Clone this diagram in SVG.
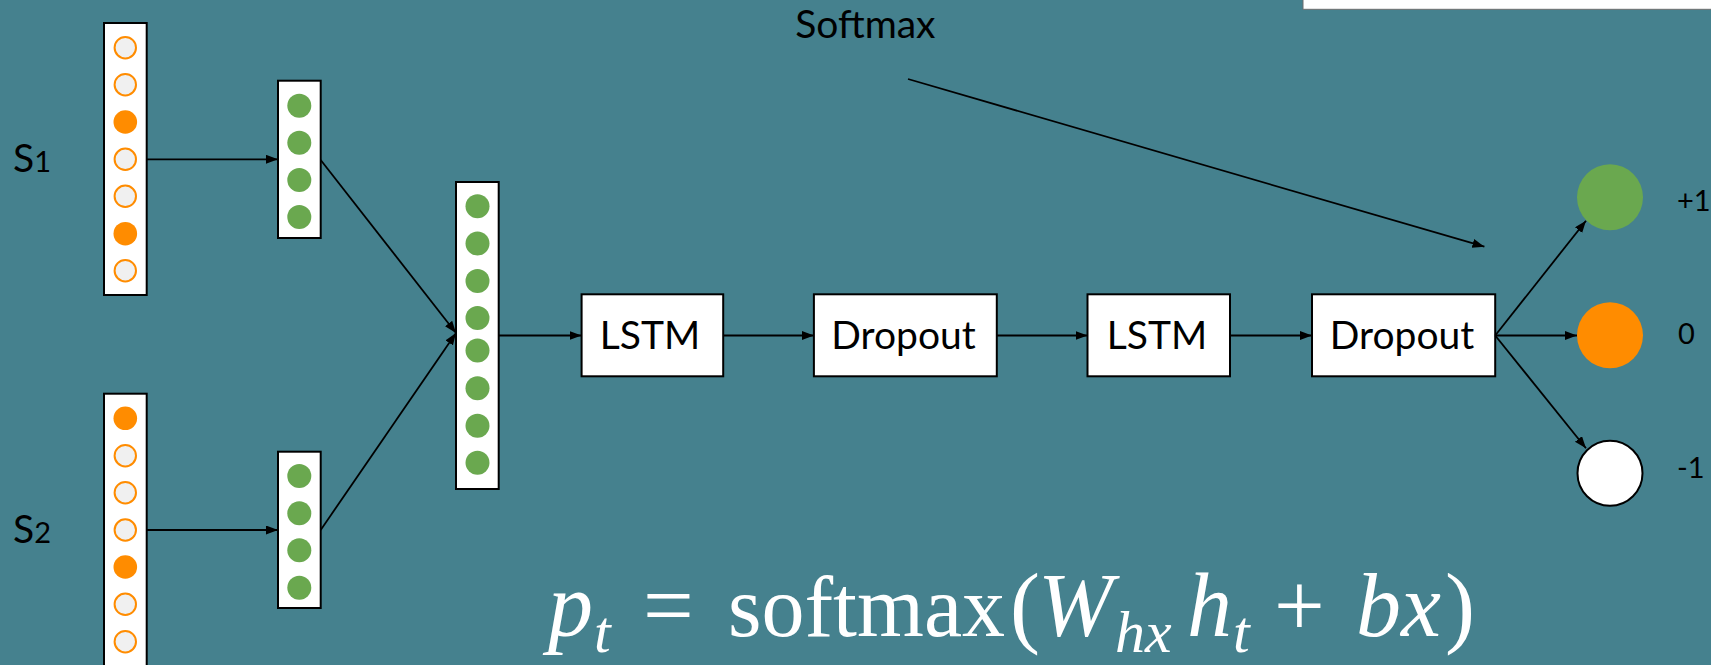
<svg xmlns="http://www.w3.org/2000/svg" width="1711" height="665" viewBox="0 0 1711 665">
  <style>
    .bg { fill: #45818e; }
    .box { fill: #ffffff; stroke: #000000; stroke-width: 2; }
    .hot { fill: #ff8c00; }
    .cold { fill: #f0f0f0; stroke: #ff8c00; stroke-width: 2; }
    .emb { fill: #6aa84f; }
    .lbl { font-family: Lato, "Open Sans", "Liberation Sans", sans-serif; font-size: 39px; fill: #000000; }
    .mid { text-anchor: middle; }
    .dig { font-size: 29px; }
    .edge { fill: none; stroke: #000000; stroke-width: 1.8; }
    .math { font-family: "Liberation Serif", "DejaVu Serif", serif; font-size: 90px; fill: #ffffff; }
    .it { font-style: italic; }
    .sub { font-size: 60px; }
    .fn { font-size: 86px; }
  </style>
  <defs>
    <marker id="arrow" markerUnits="userSpaceOnUse" markerWidth="13" markerHeight="10" refX="12" refY="4.5" orient="auto">
      <path d="M0,0 L12,4.5 L0,9 z" fill="#000000"/>
    </marker>
  </defs>

  <rect class="bg" x="0" y="0" width="1711" height="665"/>

  <!-- white panel at the top right edge -->
  <g id="panel">
    <rect x="1303" y="-4" width="412" height="13.3" fill="#ffffff" stroke="#6d6d6d" stroke-width="1"/>
  </g>

  <!-- input one-hot vectors -->
  <g id="s1">
    <text class="lbl" x="13" y="172">S<tspan class="dig">1</tspan></text>
    <rect class="box" x="104" y="23" width="42.7" height="272"/>
    <circle class="cold" cx="125.3" cy="47.7" r="10.7"/>
    <circle class="cold" cx="125.3" cy="84.7" r="10.7"/>
    <circle class="hot" cx="125.3" cy="122" r="11.8"/>
    <circle class="cold" cx="125.3" cy="159.3" r="10.7"/>
    <circle class="cold" cx="125.3" cy="196.3" r="10.7"/>
    <circle class="hot" cx="125.3" cy="233.7" r="11.8"/>
    <circle class="cold" cx="125.3" cy="270.7" r="10.7"/>
  </g>
  <g id="s2">
    <text class="lbl" x="13" y="542.7">S<tspan class="dig">2</tspan></text>
    <rect class="box" x="104" y="393.7" width="42.7" height="290"/>
    <circle class="hot" cx="125.3" cy="418.3" r="11.8"/>
    <circle class="cold" cx="125.3" cy="455.7" r="10.7"/>
    <circle class="cold" cx="125.3" cy="492.7" r="10.7"/>
    <circle class="cold" cx="125.3" cy="530" r="10.7"/>
    <circle class="hot" cx="125.3" cy="567" r="11.8"/>
    <circle class="cold" cx="125.3" cy="604.3" r="10.7"/>
    <circle class="cold" cx="125.3" cy="641.7" r="10.7"/>
  </g>

  <!-- embedding vectors -->
  <g id="emb1">
    <rect class="box" x="278" y="80.7" width="42.7" height="157.3"/>
    <circle class="emb" cx="299.3" cy="105.7" r="12"/>
    <circle class="emb" cx="299.3" cy="142.7" r="12"/>
    <circle class="emb" cx="299.3" cy="180" r="12"/>
    <circle class="emb" cx="299.3" cy="217" r="12"/>
  </g>
  <g id="emb2">
    <rect class="box" x="278" y="451.7" width="42.7" height="156.3"/>
    <circle class="emb" cx="299.3" cy="476" r="12"/>
    <circle class="emb" cx="299.3" cy="513.3" r="12"/>
    <circle class="emb" cx="299.3" cy="550.3" r="12"/>
    <circle class="emb" cx="299.3" cy="587.7" r="12"/>
  </g>

  <!-- merged vector -->
  <g id="merged">
    <rect class="box" x="456" y="182" width="42.7" height="307"/>
    <circle class="emb" cx="477.5" cy="206.3" r="12"/>
    <circle class="emb" cx="477.5" cy="243.5" r="12"/>
    <circle class="emb" cx="477.5" cy="281" r="12"/>
    <circle class="emb" cx="477.5" cy="318" r="12"/>
    <circle class="emb" cx="477.5" cy="350.5" r="12"/>
    <circle class="emb" cx="477.5" cy="388.3" r="12"/>
    <circle class="emb" cx="477.5" cy="425.7" r="12"/>
    <circle class="emb" cx="477.5" cy="462.7" r="12"/>
  </g>

  <!-- layers -->
  <g id="lstm1">
    <rect class="box" x="581.6" y="294.3" width="141.6" height="82"/>
    <text class="lbl mid" x="650" y="349.3">LSTM</text>
  </g>
  <g id="dropout1">
    <rect class="box" x="813.9" y="294.3" width="182.9" height="82"/>
    <text class="lbl mid" x="903.5" y="349.3">Dropout</text>
  </g>
  <g id="lstm2">
    <rect class="box" x="1087.5" y="294.3" width="142.5" height="82"/>
    <text class="lbl mid" x="1157" y="349.3">LSTM</text>
  </g>
  <g id="dropout2">
    <rect class="box" x="1312" y="294.3" width="183.2" height="82"/>
    <text class="lbl mid" x="1402" y="349.3">Dropout</text>
  </g>

  <!-- output classes -->
  <g id="out-pos">
    <circle cx="1610" cy="197.3" r="33" fill="#6aa84f"/>
    <text class="lbl dig" x="1677" y="210.7">+1</text>
  </g>
  <g id="out-neu">
    <circle cx="1610" cy="335.3" r="33" fill="#ff8c00"/>
    <text class="lbl dig" x="1678" y="344">0</text>
  </g>
  <g id="out-neg">
    <circle cx="1610" cy="473.3" r="32.5" fill="#ffffff" stroke="#000000" stroke-width="2"/>
    <text class="lbl dig" x="1677" y="478.3">-1</text>
  </g>

  <g id="softmax-label">
    <text class="lbl mid" x="865.4" y="37.7">Softmax</text>
  </g>

  <!-- connectors -->
  <g id="connectors">
    <line class="edge" x1="146.7" y1="159.3" x2="278" y2="159.3" marker-end="url(#arrow)"/>
    <line class="edge" x1="146.7" y1="530" x2="278" y2="530" marker-end="url(#arrow)"/>
    <line class="edge" x1="320.7" y1="160" x2="456" y2="333" marker-end="url(#arrow)"/>
    <line class="edge" x1="320.7" y1="530" x2="456" y2="333" marker-end="url(#arrow)"/>
    <line class="edge" x1="498.7" y1="335.5" x2="581.6" y2="335.5" marker-end="url(#arrow)"/>
    <line class="edge" x1="723.2" y1="335.5" x2="813.9" y2="335.5" marker-end="url(#arrow)"/>
    <line class="edge" x1="996.8" y1="335.5" x2="1087.5" y2="335.5" marker-end="url(#arrow)"/>
    <line class="edge" x1="1230" y1="335.5" x2="1312" y2="335.5" marker-end="url(#arrow)"/>
    <line class="edge" x1="1495.2" y1="335.5" x2="1586" y2="220.7" marker-end="url(#arrow)"/>
    <line class="edge" x1="1495.2" y1="335.5" x2="1577" y2="335.5" marker-end="url(#arrow)"/>
    <line class="edge" x1="1495.2" y1="335.5" x2="1586" y2="448.3" marker-end="url(#arrow)"/>
    <line class="edge" x1="908" y1="79" x2="1484.4" y2="246.7" marker-end="url(#arrow)"/>
  </g>

  <!-- output equation -->
  <g id="equation">
    <text class="math"><tspan class="it" x="548" y="636">p</tspan><tspan class="it sub" x="594" y="652">t</tspan><tspan x="643" y="636">=</tspan><tspan class="fn" x="728" y="636">softmax</tspan><tspan x="1010" y="636">(</tspan><tspan class="it" x="1038" y="636">W</tspan><tspan class="it sub" x="1115" y="652">hx</tspan><tspan class="it" x="1187" y="636">h</tspan><tspan class="it sub" x="1233" y="652">t</tspan><tspan x="1274" y="636">+</tspan><tspan class="it" x="1356" y="636">bx</tspan><tspan x="1445" y="636">)</tspan></text>
  </g>
</svg>
